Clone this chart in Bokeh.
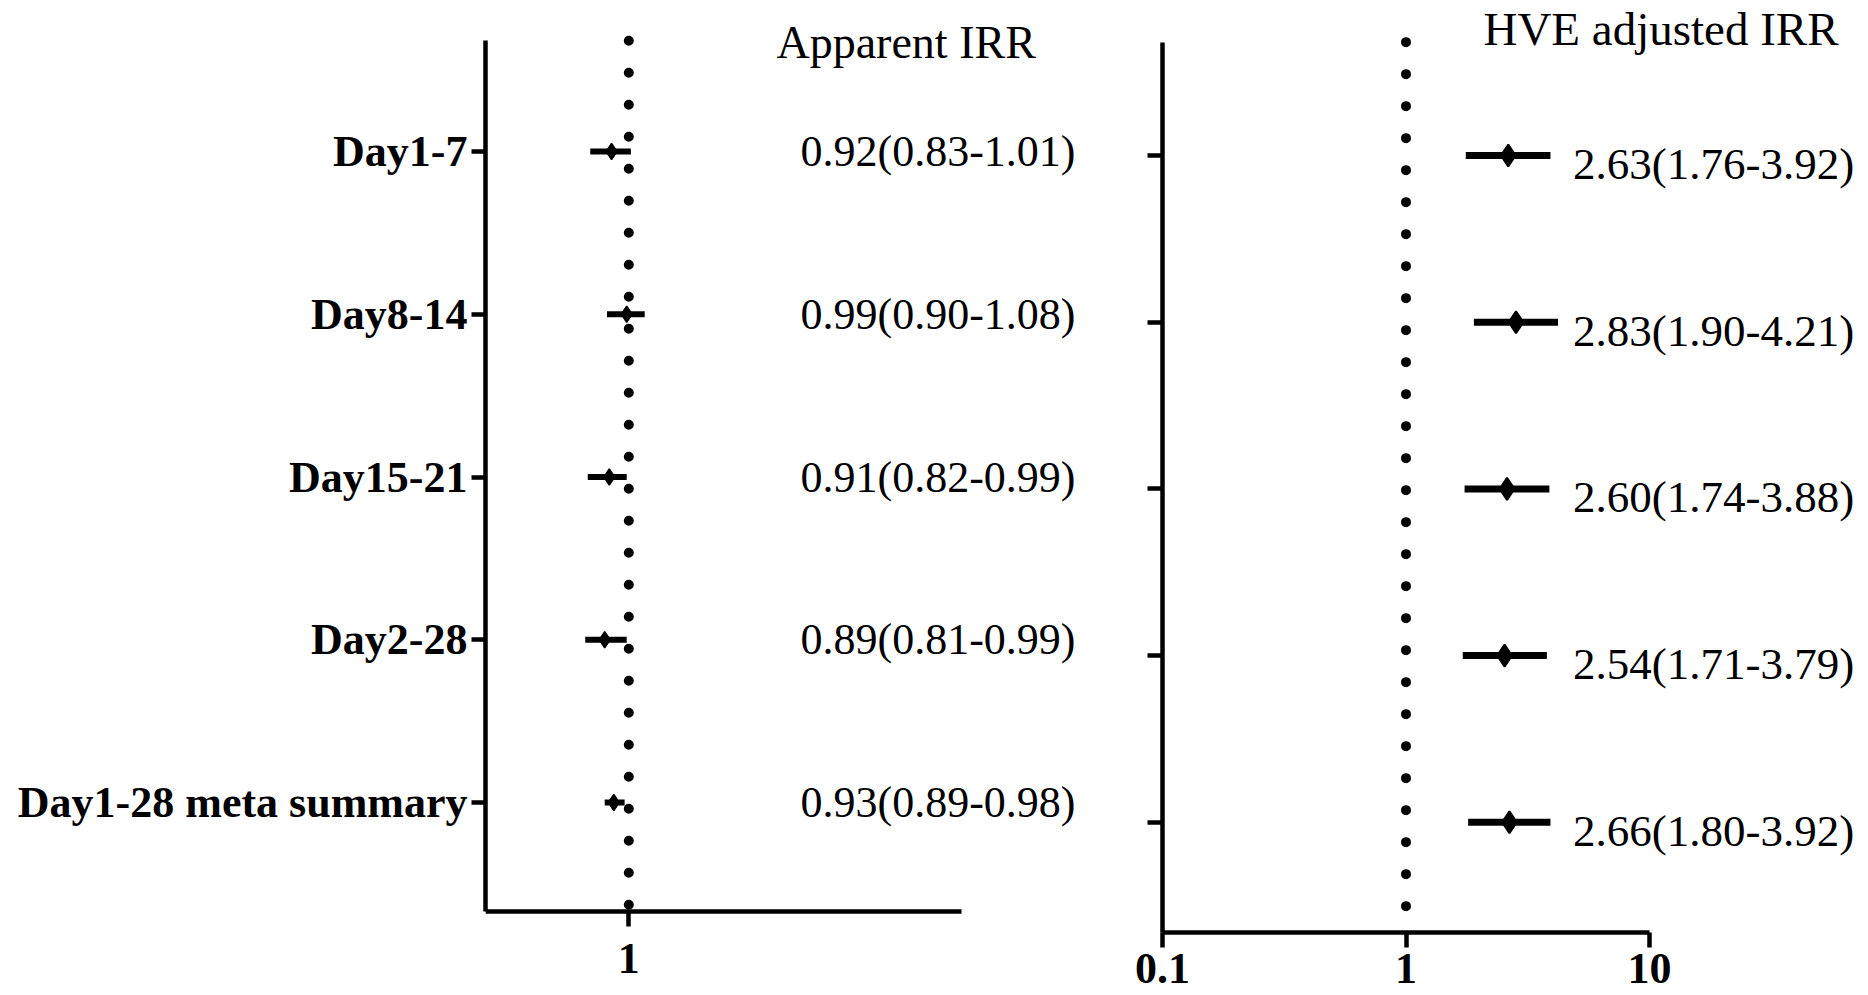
from bokeh.plotting import figure
from bokeh.models import Range1d, FixedTicker, ColumnDataSource
from bokeh.layouts import row
from bokeh.core.properties import value
from bokeh.embed import file_html
from bokeh.resources import INLINE

# ---------------- data ----------------
categories = ["Day1-7", "Day8-14", "Day15-21", "Day2-28", "Day1-28 meta summary"]
apparent_irr = [0.92, 0.99, 0.91, 0.89, 0.93]
apparent_lo = [0.83, 0.90, 0.82, 0.81, 0.89]
apparent_hi = [1.01, 1.08, 0.99, 0.99, 0.98]
hve_irr = [2.63, 2.83, 2.60, 2.54, 2.66]
hve_lo = [1.76, 1.90, 1.74, 1.71, 1.80]
hve_hi = [3.92, 4.21, 3.88, 3.79, 3.92]
ref_value = 1.0
left_ticks = [1]
right_ticks = [0.1, 1, 10]
left_title = "Apparent IRR"
right_title = "HVE adjusted IRR"

SERIF = "Liberation Serif"
H = 995
pos = list(range(len(categories)))

def fmt(v, lo, hi):
    return f"{v:.2f}({lo:.2f}-{hi:.2f})"

# ---------------- left panel ----------------
FA_W, FA_LEFT, A_DEC = 1090, 485, 476.0
A_ROW0, A_SP = 151.0, 162.75
xa_end = 0.5 * 10 ** ((FA_W - FA_LEFT) / A_DEC)
pa = figure(width=FA_W, height=H, x_axis_type="log",
            x_range=Range1d(0.5, xa_end),
            y_range=Range1d((H - A_ROW0) / A_SP, -A_ROW0 / A_SP),
            output_backend="svg", toolbar_location=None,
            min_border_left=FA_LEFT, min_border_right=0,
            min_border_top=0, min_border_bottom=0)

# ---------------- right panel ----------------
FB_W, B_AXIS_OFF, B_DEC = 1868 - FA_W, 1162 - FA_W, 243.5
B_ROW0, B_SP = 155.0, 166.7
xb_start = 0.1 * 10 ** (-B_AXIS_OFF / B_DEC)
xb_end = 0.1 * 10 ** ((FB_W - B_AXIS_OFF) / B_DEC)
pb = figure(width=FB_W, height=H, x_axis_type="log",
            x_range=Range1d(xb_start, xb_end),
            y_range=Range1d((H - B_ROW0) / B_SP, -B_ROW0 / B_SP),
            output_backend="svg", toolbar_location=None,
            min_border_left=0, min_border_right=0,
            min_border_top=0, min_border_bottom=0)

for p in (pa, pb):
    p.outline_line_color = None
    p.xgrid.visible = False
    p.ygrid.visible = False
    p.background_fill_color = "white"
    p.border_fill_color = "white"

# axes: left panel
ya_bounds = (-0.68, 4.67)
pa.yaxis.ticker = FixedTicker(ticks=pos)
pa.yaxis.major_label_overrides = {i: c for i, c in zip(pos, categories)}
pa.yaxis.bounds = ya_bounds
pa.yaxis.axis_line_width = 4.5
pa.yaxis.major_tick_line_width = 4.5
pa.yaxis.major_tick_in = 0
pa.yaxis.major_tick_out = 14
pa.yaxis.minor_tick_line_color = None
pa.yaxis.major_label_standoff = 4
pa.yaxis.major_label_text_font = SERIF
pa.yaxis.major_label_text_font_style = "bold"
pa.yaxis.major_label_text_font_size = "44px"
pa.yaxis.major_label_text_color = "black"

pa.xaxis.ticker = FixedTicker(ticks=left_ticks)
pa.xaxis.major_label_overrides = {1: "1"}
pa.xaxis.bounds = (0.5, 5)
pa.xaxis.fixed_location = ya_bounds[1]

# axes: right panel
yb_bounds = (-0.68, 4.66)
pb.yaxis.ticker = FixedTicker(ticks=pos)
pb.yaxis.bounds = yb_bounds
pb.yaxis.fixed_location = right_ticks[0]
pb.yaxis.axis_line_width = 4.5
pb.yaxis.major_tick_line_width = 4.5
pb.yaxis.major_tick_in = 0
pb.yaxis.major_tick_out = 15
pb.yaxis.minor_tick_line_color = None
pb.yaxis.major_label_text_color = None
pb.yaxis.major_label_text_font_size = "10px"
pb.yaxis.major_label_standoff = 0

pb.xaxis.ticker = FixedTicker(ticks=right_ticks)
pb.xaxis.major_label_overrides = {0.1: "0.1", 1: "1", 10: "10"}
pb.xaxis.bounds = (0.1, 10)
pb.xaxis.fixed_location = yb_bounds[1]

for ax, standoff in ((pa.xaxis[0], 17), (pb.xaxis[0], 7)):
    ax.axis_line_width = 4.5
    ax.major_tick_line_width = 4.5
    ax.major_tick_in = 0
    ax.major_tick_out = 15
    ax.minor_tick_line_color = None
    ax.major_label_standoff = standoff
    ax.major_label_text_font = SERIF
    ax.major_label_text_font_style = "bold"
    ax.major_label_text_font_size = "44px"
    ax.major_label_text_color = "black"

# ---------------- reference lines ----------------
pa.line(x=[ref_value, ref_value], y=list(ya_bounds), line_color="black",
        line_width=10, line_dash="0 32", line_cap="round")
pb.line(x=[ref_value, ref_value], y=list(yb_bounds), line_color="black",
        line_width=10, line_dash="0 32", line_cap="round")

# ---------------- error bars + points ----------------
src_a = ColumnDataSource(dict(y=pos, est=apparent_irr, lo=apparent_lo, hi=apparent_hi,
                              lab=[fmt(*t) for t in zip(apparent_irr, apparent_lo, apparent_hi)]))
src_b = ColumnDataSource(dict(y=pos, est=hve_irr, lo=hve_lo, hi=hve_hi,
                              ylab=[v + 0.05 for v in pos],
                              lab=[fmt(*t) for t in zip(hve_irr, hve_lo, hve_hi)]))

pa.segment(x0="lo", y0="y", x1="hi", y1="y", source=src_a, line_color="black",
           line_width=6, line_cap="butt")
pa.scatter(x="est", y="y", source=src_a, marker="diamond", size=16,
           fill_color="black", line_color="black", line_width=1.5)

pb.segment(x0="lo", y0="y", x1="hi", y1="y", source=src_b, line_color="black",
           line_width=7, line_cap="butt")
pb.scatter(x="est", y="y", source=src_b, marker="diamond", size=22,
           fill_color="black", line_color="black", line_width=2)

# ---------------- value texts ----------------
pa.text(x=2.295, y="y", text="lab", source=src_a, text_font=value(SERIF),
        text_font_size="44px", text_align="left", text_baseline="middle",
        text_color="black")
pb.text(x=4.85, y="ylab", text="lab", source=src_b, text_font=value(SERIF),
        text_font_size="45px", text_align="left", text_baseline="middle",
        text_color="black")

# ---------------- titles ----------------
pa.text(x=[2.043], y=[-0.667], text=[left_title], text_font=value(SERIF),
        text_font_size="46px", text_align="left", text_baseline="middle",
        text_color="black")
pb.text(x=[2.08], y=[-0.756], text=[right_title], text_font=value(SERIF),
        text_font_size="47px", text_align="left", text_baseline="middle",
        text_color="black")

layout = row(pa, pb, spacing=0)
open("out.html", "w").write(file_html(layout, INLINE))
